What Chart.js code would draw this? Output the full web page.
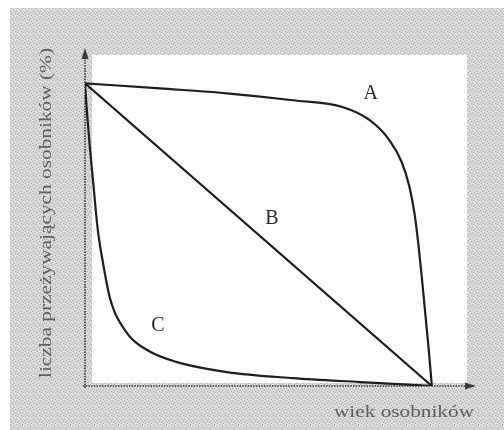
<!DOCTYPE html>
<html>
<head>
<meta charset="utf-8">
<script src="https://cdn.jsdelivr.net/npm/chart.js@4/dist/chart.umd.min.js"></script>
<style>
  html, body { margin: 0; padding: 0; background: #fff; }
  canvas { display: block; }
</style>
</head>
<body>
<canvas id="survChart" width="504" height="430"></canvas>
<script>
'use strict';

// krzywe przeżywania (wiek %, przeżywalność %)
const ageA = [0, 21.6, 40.9, 59.9, 74.4, 82.1, 87.9, 91.3, 93.5, 95.0, 96.1, 97.1, 98.1, 99.1, 100];
const survA = [100, 98.3, 96.7, 94.4, 92.1, 87.8, 81, 74, 66, 57, 47, 36, 24, 12, 0];
const ageB = [0, 100];
const survB = [100, 0];
const ageC = [0, 0.6, 1.4, 2.3, 3.7, 5.2, 7.2, 12.1, 17.9, 26.5, 40.9, 59.9, 79.3, 100];
const survC = [100, 90, 78.9, 68, 51.5, 40.6, 29, 17.5, 11.9, 7.9, 4.6, 2.6, 1.3, 0];

// podpisy krzywych
const curveNames = ['A', 'B', 'C'];
const nameAge = [82.4, 53.9, 21];
const nameSurv = [96.7, 55.4, 19.8];

const yTitle = 'liczba przeżywających osobników (%)';
const xTitle = 'wiek osobników';

const serif = '"Liberation Serif", "Times New Roman", Times, serif';

const toPoints = (xs, ys) => xs.map((x, i) => ({ x: x, y: ys[i] }));

// szare, zaszumione tło skanu
function makePattern(ctx) {
    const c = document.createElement('canvas');
    c.width = 6; c.height = 6;
    const p = c.getContext('2d');
    p.fillStyle = '#d6d6d6';
    p.fillRect(0, 0, 6, 6);
    p.fillStyle = '#b0b0b0';
    [[0, 0], [3, 1], [1, 3], [4, 4], [2, 5], [5, 2]].forEach(([x, y]) => p.fillRect(x, y, 1, 1));
    p.fillStyle = '#ebebeb';
    [[2, 0], [5, 3], [0, 4], [3, 3]].forEach(([x, y]) => p.fillRect(x, y, 1, 1));
    return ctx.createPattern(c, 'repeat');
}

const backgroundPlugin = {
    id: 'scanBackground',
    beforeDraw: (chart) => {
        const ctx = chart.ctx;
        ctx.save();
        ctx.fillStyle = '#ffffff';
        ctx.fillRect(0, 0, chart.width, chart.height);
        ctx.fillStyle = makePattern(ctx);
        ctx.fillRect(10, 8, chart.width - 10, chart.height - 8);
        // biały obszar rysunku
        ctx.fillStyle = '#fdfdfd';
        ctx.fillRect(92, 55, 375, 328);
        ctx.restore();
    }
};

function arrow(ctx, x, y, dir) {
    ctx.beginPath();
    if (dir === 'up') {
        ctx.moveTo(x, y);
        ctx.lineTo(x - 3.5, y + 11);
        ctx.lineTo(x + 3.5, y + 11);
    } else {
        ctx.moveTo(x, y);
        ctx.lineTo(x - 11, y - 3.5);
        ctx.lineTo(x - 11, y + 3.5);
    }
    ctx.closePath();
    ctx.fill();
}

// tekst rozciągnięty na zadaną szerokość
function stretchedText(ctx, text, cx, cy, width, angle) {
    ctx.save();
    ctx.translate(cx, cy);
    ctx.rotate(angle);
    const w = ctx.measureText(text).width;
    ctx.scale(width / w, 1);
    ctx.textAlign = 'center';
    ctx.textBaseline = 'middle';
    ctx.fillText(text, 0, 0);
    ctx.restore();
}

const axesPlugin = {
    id: 'handAxes',
    beforeDatasetsDraw: (chart) => {
        const ctx = chart.ctx;
        const xs = chart.scales.x;
        const ys = chart.scales.y;
        const x0 = xs.getPixelForValue(0);
        const y0 = ys.getPixelForValue(0);
        ctx.save();
        ctx.strokeStyle = '#3a3a3a';
        ctx.fillStyle = '#3a3a3a';
        ctx.lineWidth = 1.6;
        ctx.setLineDash([1.5, 1.2]);
        ctx.beginPath();
        ctx.moveTo(x0, y0 + 2);
        ctx.lineTo(x0, chart.chartArea.top + 6);
        ctx.moveTo(x0 - 2, y0);
        ctx.lineTo(chart.chartArea.right, y0);
        ctx.stroke();
        ctx.setLineDash([]);
        arrow(ctx, x0, chart.chartArea.top - 2, 'up');
        arrow(ctx, chart.chartArea.right + 6, y0, 'right');

        // tytuły osi
        ctx.fillStyle = '#5e5e5e';
        ctx.font = '16px ' + serif;
        stretchedText(ctx, yTitle, 47, 213, 330, -Math.PI / 2);
        ctx.font = '17px ' + serif;
        stretchedText(ctx, xTitle, 404, 413, 140, 0);
        ctx.restore();
    },
    afterDatasetsDraw: (chart) => {
        const ctx = chart.ctx;
        ctx.save();
        ctx.fillStyle = '#2a2a2a';
        ctx.font = '20px ' + serif;
        ctx.textAlign = 'center';
        ctx.textBaseline = 'middle';
        curveNames.forEach((name, i) => {
            ctx.fillText(name,
                chart.scales.x.getPixelForValue(nameAge[i]),
                chart.scales.y.getPixelForValue(nameSurv[i]));
        });
        ctx.restore();
    }
};

const lineStyle = {
    borderColor: '#1e1e1e',
    borderWidth: 2.2,
    pointRadius: 0,
    fill: false,
    cubicInterpolationMode: 'monotone'
};

new Chart(document.getElementById('survChart').getContext('2d'), {
    type: 'line',
    data: {
        datasets: [
            Object.assign({ label: 'A', data: toPoints(ageA, survA) }, lineStyle),
            Object.assign({ label: 'B', data: toPoints(ageB, survB) }, lineStyle),
            Object.assign({ label: 'C', data: toPoints(ageC, survC) }, lineStyle)
        ]
    },
    options: {
        responsive: false,
        animation: false,
        devicePixelRatio: 1,
        layout: {
            padding: { left: 85, right: 34, top: 50, bottom: 44 }
        },
        scales: {
            x: { type: 'linear', min: 0, max: 111, display: false },
            y: { type: 'linear', min: 0, max: 111, display: false }
        },
        plugins: {
            legend: { display: false },
            tooltip: { enabled: false }
        }
    },
    plugins: [backgroundPlugin, axesPlugin]
});
</script>
</body>
</html>
